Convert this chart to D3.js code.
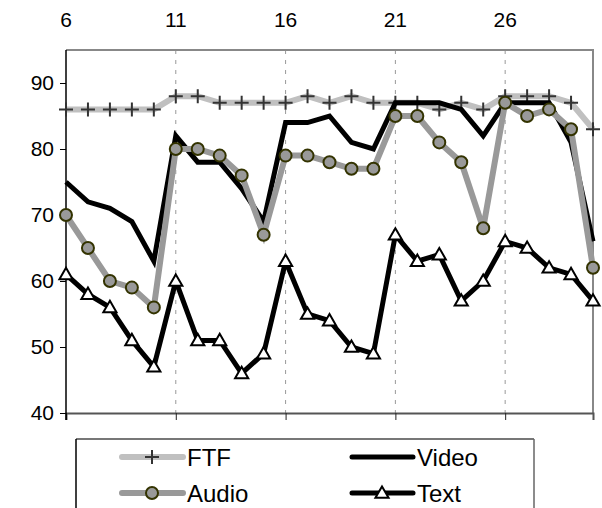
<!DOCTYPE html>
<html>
<meta charset="utf-8">
<style>
body { margin: 0; background: #fff; }
text { font-family: "Liberation Sans", Arial, sans-serif; }
</style>
<script src="https://d3js.org/d3.v7.min.js"></script>
<body>
<div id="my_dataviz"></div>
<script>
// session numbers and the four series
var sessions = d3.range(6, 31);
var ftf   = [86,86,86,86,86,88,88,87,87,87,87,88,87,88,87,87,87,86,87,86,88,88,88,87,83];
var video = [75,72,71,69,63,82,78,78,74,69,84,84,85,81,80,87,87,87,86,82,87,87,87,81,66];
var audio = [70,65,60,59,56,80,80,79,76,67,79,79,78,77,77,85,85,81,78,68,87,85,86,83,62];
var text  = [61,58,56,51,47,60,51,51,46,49,63,55,54,50,49,67,63,64,57,60,66,65,62,61,57];
var xTicks = [6, 11, 16, 21, 26];
var yTicks = [40, 50, 60, 70, 80, 90];

var W = 602, H = 508;
var svg = d3.select("#my_dataviz").append("svg")
  .attr("width", W).attr("height", H);

var x = d3.scaleLinear().domain([6, 30]).range([66, 593]);
var y = d3.scaleLinear().domain([40, 95]).range([413, 50]);

// dashed gridlines
svg.append("g").selectAll("line")
  .data(xTicks.slice(1))
  .enter().append("line")
    .attr("x1", function(d){ return x(d); }).attr("x2", function(d){ return x(d); })
    .attr("y1", 50).attr("y2", 413)
    .attr("stroke", "#999").attr("stroke-dasharray", "4,6");

// frame top/right
svg.append("path")
  .attr("d", "M" + x(6) + ",50H" + x(30) + "V" + y(40))
  .attr("fill", "none").attr("stroke", "#888").attr("stroke-width", 2);

// bottom axis (ticks only)
var xAxis = svg.append("g")
  .attr("transform", "translate(0," + y(40) + ")")
  .call(d3.axisBottom(x).tickValues(xTicks).tickSize(7).tickFormat(""));
xAxis.select(".domain").attr("stroke", "#555").attr("stroke-width", 2);
xAxis.selectAll(".tick line").attr("stroke", "#222");

// labels on top
svg.append("g").selectAll("text")
  .data(xTicks)
  .enter().append("text")
    .attr("x", function(d){ return x(d); })
    .attr("y", 27)
    .attr("text-anchor", "middle")
    .style("font-size", "21px")
    .text(function(d){ return d; });

// left axis
var yAxis = svg.append("g")
  .attr("transform", "translate(" + x(6) + ",0)")
  .call(d3.axisLeft(y).tickValues(yTicks).tickSize(6).tickPadding(6));
yAxis.select(".domain").attr("stroke", "#000").attr("stroke-width", 1.5)
  .attr("d", "M0,50V420");
yAxis.selectAll(".tick line").attr("stroke", "#000");
yAxis.selectAll(".tick text").style("font-size", "21px").attr("fill", "#000")
  .style("font-family", "Liberation Sans, Arial, sans-serif");

var line = d3.line()
  .x(function(d, i){ return x(sessions[i]); })
  .y(function(d){ return y(d); });

function plusPath(s) { return "M" + (-s) + ",0H" + s + "M0," + (-s) + "V" + s; }
var tri = d3.symbol().type(d3.symbolTriangle).size(75);

// FTF
svg.append("path").datum(ftf).attr("d", line)
  .attr("fill", "none").attr("stroke", "#c0c0c0").attr("stroke-width", 6);
svg.append("g").selectAll("path").data(ftf).enter().append("path")
  .attr("transform", function(d, i){ return "translate(" + x(sessions[i]) + "," + y(d) + ")"; })
  .attr("d", plusPath(7))
  .attr("stroke", "#333").attr("stroke-width", 2);

// Video
svg.append("path").datum(video).attr("d", line)
  .attr("fill", "none").attr("stroke", "#000").attr("stroke-width", 5);

// Audio
svg.append("path").datum(audio).attr("d", line)
  .attr("fill", "none").attr("stroke", "#999").attr("stroke-width", 6);
svg.append("g").selectAll("circle").data(audio).enter().append("circle")
  .attr("cx", function(d, i){ return x(sessions[i]); })
  .attr("cy", function(d){ return y(d); })
  .attr("r", 6)
  .attr("fill", "#999").attr("stroke", "#333300").attr("stroke-width", 2);

// Text
svg.append("path").datum(text).attr("d", line)
  .attr("fill", "none").attr("stroke", "#000").attr("stroke-width", 5);
svg.append("g").selectAll("path").data(text).enter().append("path")
  .attr("transform", function(d, i){ return "translate(" + x(sessions[i]) + "," + (y(d) + 1) + ")"; })
  .attr("d", tri)
  .attr("fill", "#fff").attr("stroke", "#000").attr("stroke-width", 2);

// legend
var lg = svg.append("g");
lg.append("line").attr("x1", 76).attr("x2", 534).attr("y1", 439).attr("y2", 439)
  .attr("stroke", "#777").attr("stroke-width", 2);
lg.append("line").attr("x1", 76).attr("x2", 76).attr("y1", 439).attr("y2", 508)
  .attr("stroke", "#000").attr("stroke-width", 1.5);
lg.append("line").attr("x1", 534).attr("x2", 534).attr("y1", 439).attr("y2", 508)
  .attr("stroke", "#666").attr("stroke-width", 1.5);

var items = [
  {name: "FTF",   lx: 122, ly: 457, color: "#c0c0c0", w: 6, mark: "plus"},
  {name: "Video", lx: 352, ly: 457, color: "#000",    w: 5, mark: "none"},
  {name: "Audio", lx: 122, ly: 493, color: "#999",    w: 6, mark: "circle"},
  {name: "Text",  lx: 352, ly: 493, color: "#000",    w: 5, mark: "tri"}
];
items.forEach(function(it) {
  lg.append("line").attr("x1", it.lx).attr("x2", it.lx + 61)
    .attr("y1", it.ly).attr("y2", it.ly)
    .attr("stroke", it.color).attr("stroke-width", it.w).attr("stroke-linecap", "round");
  var cx = it.lx + 30;
  if (it.mark == "plus") {
    lg.append("path").attr("transform", "translate(" + cx + "," + it.ly + ")")
      .attr("d", plusPath(7)).attr("stroke", "#333").attr("stroke-width", 2);
  } else if (it.mark == "circle") {
    lg.append("circle").attr("cx", cx).attr("cy", it.ly).attr("r", 6)
      .attr("fill", "#999").attr("stroke", "#333300").attr("stroke-width", 2);
  } else if (it.mark == "tri") {
    lg.append("path").attr("transform", "translate(" + cx + "," + (it.ly + 1) + ")")
      .attr("d", tri).attr("fill", "#fff").attr("stroke", "#000").attr("stroke-width", 2);
  }
  lg.append("text").attr("x", it.lx + 65).attr("y", it.ly + 9)
    .style("font-size", "24px").text(it.name);
});
</script>
</body>
</html>
